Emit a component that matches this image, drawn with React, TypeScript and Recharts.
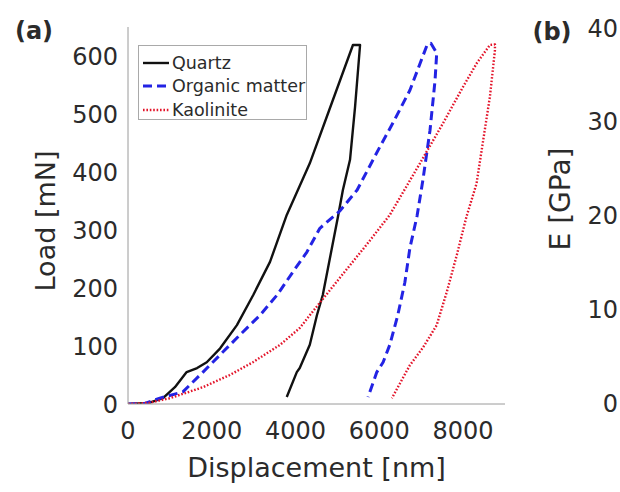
import React from "react";
import { LineChart, Line, XAxis, YAxis, Legend, Label } from "recharts";

// ── Data (displacement in nm, load in mN) ─────────────────────────────

const quartzDisp = [0, 500, 835, 1120, 1400, 1650, 1880, 2200, 2600, 2990, 3390, 3790, 4340, 4800, 5370, 5540, 5420, 5300, 5130, 5010, 4650, 4510, 4340, 4100, 4030, 3790];
const quartzLoad = [0, 2, 10, 29, 55, 62, 72, 96, 136, 188, 245, 326, 415, 506, 619, 619, 512, 421, 369, 322, 188, 153, 102, 62, 55, 12];

const organicDisp = [0, 400, 760, 1310, 1790, 2270, 2670, 3150, 3560, 3940, 4270, 4580, 5060, 5470, 6010, 6320, 6730, 7140, 7230, 7370, 7330, 7210, 7040, 6900, 6730, 6610, 6440, 6250, 6090, 5940, 5730];
const organicLoad = [0, 1, 10, 21, 55, 90, 119, 153, 188, 228, 262, 303, 333, 369, 443, 484, 541, 619, 622, 605, 558, 472, 386, 324, 269, 210, 153, 102, 72, 55, 12];

const kaoliniteDisp = [0, 500, 1000, 1790, 2430, 2980, 3630, 4100, 4340, 5140, 5700, 6250, 6970, 7520, 8000, 8330, 8640, 8760, 8760, 8640, 8480, 8320, 8080, 7850, 7610, 7370, 7040, 6730, 6300];
const kaoliniteLoad = [0, 2, 10, 29, 50, 72, 102, 131, 153, 225, 275, 326, 415, 484, 547, 588, 619, 620, 610, 530, 455, 380, 323, 257, 193, 136, 97, 67, 10];

const xTicks = [0, 2000, 4000, 6000, 8000];
const yTicks = [0, 100, 200, 300, 400, 500, 600];
const eTicks = [0, 10, 20, 30, 40];
// panel (b) is cut off at the image edge: only its axis is visible
const panelBRows = [{ name: "b" }];

// ── Styles ────────────────────────────────────────────────────────────

const FONT = "'DejaVu Sans', sans-serif";
const TEXT = "#2b2b2b";
const AXIS = "#9a9a9a";

const series = [
  { name: "Quartz", disp: quartzDisp, load: quartzLoad, color: "#111111", width: 2.4, dash: undefined as string | undefined },
  { name: "Organic matter", disp: organicDisp, load: organicLoad, color: "#2323e4", width: 3, dash: "9 5" },
  { name: "Kaolinite", disp: kaoliniteDisp, load: kaoliniteLoad, color: "#e3142a", width: 2.4, dash: "1.6 1.8" },
];

const zip = (xs: number[], ys: number[]) => xs.map((x, i) => ({ x, y: ys[i] }));

const tickStyle = { fill: TEXT, fontSize: 24, fontFamily: FONT } as const;

function LegendBox() {
  return (
    <div
      style={{
        border: "1px solid #a9a9a9",
        background: "#fff",
        width: 169,
        height: 75,
        paddingTop: 5,
        boxSizing: "border-box",
        fontFamily: FONT,
        fontSize: 17.5,
        color: TEXT,
      }}
    >
      {series.map((s) => (
        <div key={s.name} style={{ display: "flex", alignItems: "center", height: 23.5, whiteSpace: "nowrap" }}>
          <svg width={32} height={6} style={{ flex: "none" }}>
            <line
              x1={4}
              x2={30}
              y1={3}
              y2={3}
              stroke={s.color}
              strokeWidth={s.width}
              strokeDasharray={s.dash}
            />
          </svg>
          <span style={{ marginLeft: 1, lineHeight: "20px" }}>{s.name}</span>
        </div>
      ))}
    </div>
  );
}

export default function App() {
  return (
    <div
      style={{
        position: "absolute",
        left: 0,
        top: 0,
        width: 620,
        height: 492,
        overflow: "hidden",
        background: "#fff",
        fontFamily: FONT,
      }}
    >
      {/* (a) load–displacement curves */}
      <LineChart width={520} height={492} margin={{ top: 27, right: 15, left: 0, bottom: 0 }}>
        <XAxis
          type="number"
          dataKey="x"
          domain={[0, 9000]}
          ticks={xTicks}
          allowDataOverflow
          height={88}
          tick={tickStyle}
          tickLine={false}
          tickSize={0}
          tickMargin={18}
          axisLine={{ stroke: AXIS, strokeWidth: 1 }}
        >
          <Label
            content={(p: any) => (
              <text
                x={p.viewBox.x + p.viewBox.width / 2}
                y={477}
                textAnchor="middle"
                fontSize={27}
                fontFamily={FONT}
                fill={TEXT}
              >
                Displacement [nm]
              </text>
            )}
          />
        </XAxis>
        <YAxis
          type="number"
          domain={[0, 650]}
          ticks={yTicks}
          allowDataOverflow
          width={128}
          tick={tickStyle}
          tickLine={false}
          tickSize={0}
          tickMargin={10}
          axisLine={{ stroke: AXIS, strokeWidth: 1 }}
        >
          <Label
            content={() => (
              <text
                x={55}
                y={221}
                transform="rotate(-90 55 221)"
                textAnchor="middle"
                fontSize={27}
                fontFamily={FONT}
                fill={TEXT}
              >
                Load [mN]
              </text>
            )}
          />
        </YAxis>
        <Legend
          layout="vertical"
          align="center"
          verticalAlign="middle"
          content={() => <LegendBox />}
          wrapperStyle={{ left: 138, top: 45, width: 169, height: 75 }}
        />
        {series.map((s) => (
          <Line
            key={s.name}
            data={zip(s.disp, s.load)}
            dataKey="y"
            name={s.name}
            type="linear"
            stroke={s.color}
            strokeWidth={s.width}
            strokeDasharray={s.dash}
            strokeLinejoin="round"
            dot={false}
            activeDot={false}
            isAnimationActive={false}
          />
        ))}
        <text x={34} y={39} textAnchor="middle" fontSize={24} fontWeight="bold" fontFamily={FONT} fill={TEXT}>
          (a)
        </text>
      </LineChart>

      {/* (b) only the left edge of the next panel shows */}
      <div style={{ position: "absolute", left: 520, top: 0 }}>
        <LineChart width={200} height={492} data={panelBRows} margin={{ top: 28, right: 0, left: 0, bottom: 89 }}>
          <XAxis dataKey="name" hide />
          <YAxis
            type="number"
            domain={[0, 40]}
            ticks={eTicks}
            allowDataOverflow
            width={108}
            tick={tickStyle}
            tickLine={false}
            tickSize={0}
            tickMargin={10}
            axisLine={{ stroke: AXIS, strokeWidth: 1 }}
          >
            <Label
              content={() => (
                <text
                  x={50}
                  y={199}
                  transform="rotate(-90 50 199)"
                  textAnchor="middle"
                  fontSize={28}
                  fontFamily={FONT}
                  fill={TEXT}
                >
                  E [GPa]
                </text>
              )}
            />
          </YAxis>
          <Line dataKey="e" stroke="none" dot={false} activeDot={false} isAnimationActive={false} />
          <text x={32} y={40} textAnchor="middle" fontSize={24} fontWeight="bold" fontFamily={FONT} fill={TEXT}>
            (b)
          </text>
        </LineChart>
      </div>
    </div>
  );
}
